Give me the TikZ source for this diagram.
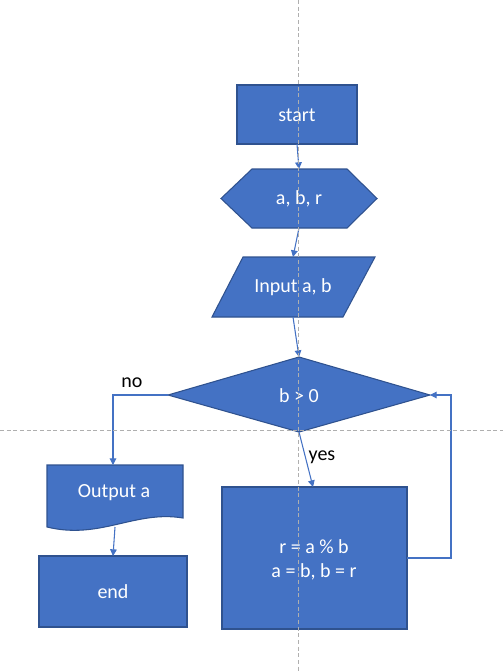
\documentclass[tikz,border=0pt]{standalone}
\usepackage{fontspec}
\setmainfont{Carlito}
\usetikzlibrary{arrows.meta}
\definecolor{boxblue}{RGB}{68,114,196}
\definecolor{boxedge}{RGB}{47,82,143}
\definecolor{guide}{RGB}{175,175,175}
\begin{document}
\begin{tikzpicture}[x=0.75pt,y=-0.75pt,
  shapefill/.style={fill=boxblue,draw=boxedge,line width=0.8pt},
  intext/.style={text=white,font=\fontsize{15}{18}\selectfont,align=center,inner sep=0pt},
  edgetext/.style={text=black,font=\fontsize{15}{18}\selectfont,inner sep=0pt},
  flow/.style={draw=boxblue,line width=0.8pt,-{Triangle[width=5pt,length=5pt]}},
  guideline/.style={draw=guide,line width=0.6pt,dash pattern=on 3pt off 2pt}]
\useasboundingbox (0,0) rectangle (503,672);

% start
\draw[shapefill] (237,85) rectangle (357,144);
\node[intext] (start) at (297,115) {start};
% variables (hexagon)
\draw[shapefill] (221,198.5) -- (252,169) -- (347,169) -- (377,198.5) -- (347,228) -- (252,228) -- cycle;
\node[intext] (vars) at (299,199) {a, b, r};
% input (parallelogram)
\draw[shapefill] (243,257) -- (375,257) -- (343,317) -- (212,317) -- cycle;
\node[intext] (input) at (293,287) {Input a, b};
% decision (diamond)
\draw[shapefill] (168,395) -- (299,357) -- (430,395) -- (299,432) -- cycle;
\node[intext] (cond) at (299,396) {b > 0};
% output (document)
\draw[shapefill] (47,465) -- (183,465) -- (183,518) .. controls (135,510) and (100,540) .. (47,527) -- cycle;
\node[intext] (output) at (114,493) {Output a};
% end
\draw[shapefill] (39,556) rectangle (187,627);
\node[intext] (end) at (113,592) {end};
% loop body
\draw[shapefill] (222,487) rectangle (407,629);
\node[intext] (body) at (314,560) {r = a \% b\\a = b, b = r};

% connector end points
\coordinate (start-s) at (297,144);
\coordinate (vars-n) at (299,169);
\coordinate (vars-s) at (299,228);
\coordinate (input-n) at (293,257);
\coordinate (input-s) at (293,317);
\coordinate (cond-n) at (299,357);
\coordinate (cond-w) at (168,395);
\coordinate (cond-e) at (430,395);
\coordinate (cond-s) at (299,432);
\coordinate (body-n) at (313,487);
\coordinate (body-e) at (407,558);
\coordinate (output-n) at (113,465);
\coordinate (output-s) at (115,527);
\coordinate (end-n) at (113,556);

% connectors
\draw[flow] (start-s) -- (vars-n);
\draw[flow] (vars-s) -- (input-n);
\draw[flow] (input-s) -- (cond-n);
\draw[flow] (cond-s) -- (body-n);
\draw[flow] (cond-w) -| (output-n);
\draw[flow] (output-s) -- (end-n);
\draw[flow] (body-e) -- (451,558) |- (cond-e);

% branch labels
\node[edgetext] (no) at (132,383) {no};
\node[edgetext] (yes) at (322,457) {yes};

% guides
\draw[guideline] (298,0) -- (298,672);
\draw[guideline] (0,430) -- (503,430);
\end{tikzpicture}
\end{document}
